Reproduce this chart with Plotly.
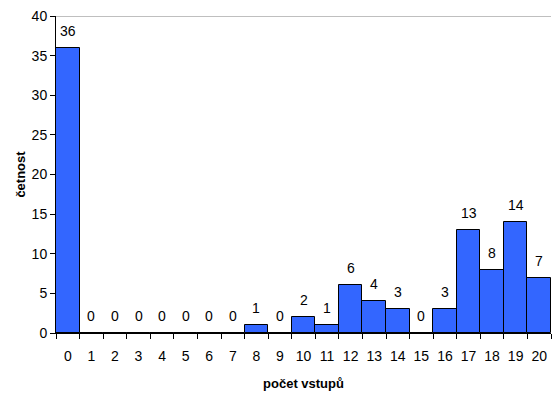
import plotly.graph_objects as go

# Histogram of number of entries (počet vstupů) and their frequency (četnost)
categories = [str(i) for i in range(21)]
counts = [36, 0, 0, 0, 0, 0, 0, 0, 1, 0, 2, 1, 6, 4, 3, 0, 3, 13, 8, 14, 7]
y_ticks = [0, 5, 10, 15, 20, 25, 30, 35, 40]

font_family = "Liberation Sans, Arial, sans-serif"
text_color = "#000000"

fig = go.Figure(
    go.Bar(
        x=categories,
        y=counts,
        width=1.0,
        marker=dict(color="#3366FF", line=dict(color="black", width=1)),
        hoverinfo="x+y",
    )
)

# value labels sitting a little above each bar
annotations = [
    dict(
        x=c, y=v, xref="x", yref="y",
        text=str(v), showarrow=False,
        yanchor="bottom", yshift=7,
        font=dict(family=font_family, size=14, color=text_color),
    )
    for c, v in zip(categories, counts)
]

fig.update_layout(
    width=552,
    height=399,
    margin=dict(l=56, r=1, t=16, b=66),
    paper_bgcolor="white",
    plot_bgcolor="white",
    showlegend=False,
    bargap=0,
    font=dict(family=font_family, size=14, color=text_color),
    annotations=annotations,
    xaxis=dict(
        type="category",
        tickson="boundaries",
        ticks="outside",
        ticklen=5,
        tickcolor="black",
        showline=True,
        linecolor="black",
        linewidth=1,
        showgrid=False,
        tickangle=0,
        tickfont=dict(size=14),
        ticklabelstandoff=10,
        title=dict(
            text="<b>počet vstupů</b>",
            font=dict(size=13, family=font_family),
            standoff=16,
        ),
    ),
    yaxis=dict(
        range=[0, 40],
        tickvals=y_ticks,
        ticks="outside",
        ticklen=5,
        tickcolor="black",
        showline=True,
        linecolor="black",
        linewidth=1,
        showgrid=False,
        zeroline=False,
        tickfont=dict(size=14),
        title=dict(
            text="<b>četnost</b>",
            font=dict(size=13, family=font_family),
            standoff=3,
        ),
    ),
    shapes=[
        dict(
            type="line", xref="paper", yref="y",
            x0=0, x1=1, y0=40, y1=40,
            line=dict(color="#808080", width=1),
        )
    ],
)

fig.write_html("out.html")
